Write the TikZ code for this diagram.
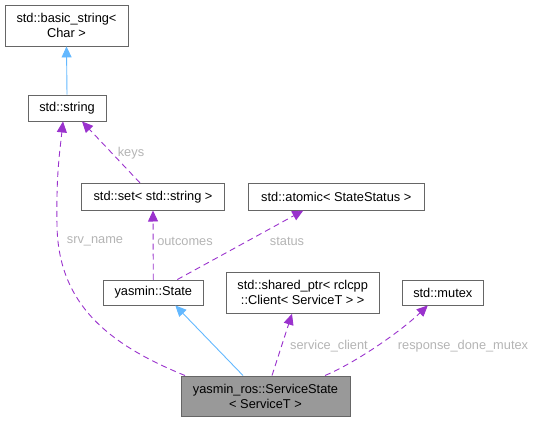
\documentclass[tikz,border=0pt]{standalone}
\usepackage{fontspec}
\setmainfont{Liberation Sans}
\usetikzlibrary{arrows.meta,calc}
\definecolor{edgepurple}{HTML}{9A32CD}
\definecolor{edgeblue}{HTML}{63B8FF}
\definecolor{boxborder}{HTML}{666666}
\definecolor{lblgray}{HTML}{B4B4B4}
\definecolor{mainfill}{HTML}{999999}
\tikzset{
  cls/.style={draw=boxborder, line width=0.9pt, fill=white, inner sep=0pt, align=center,
    font=\fontsize{12.8}{15}\selectfont},
  usage/.style={draw=edgepurple, line width=0.9pt, dash pattern=on 6pt off 4pt,
    -{Triangle[length=11pt,width=10pt]}},
  inherit/.style={draw=edgeblue, line width=0.9pt,
    -{Triangle[length=11pt,width=10pt]}},
  lbl/.style={text=lblgray, font=\fontsize{12.8}{15}\selectfont, inner sep=1pt},
}
\begin{document}
\begin{tikzpicture}[x=1pt,y=-1pt]
\useasboundingbox (0,0) rectangle (533,422);
\node[cls, minimum width=123pt, minimum height=41pt] (basic) at (66.5,25.5) {std::basic\_string<\\Char >};
\node[cls, minimum width=78pt, minimum height=26pt] (str) at (67,108) {std::string};
\node[cls, minimum width=142.6pt, minimum height=26.7pt] (set) at (153,196.7) {std::set< std::string >};
\node[cls, minimum width=176pt, minimum height=26.7pt] (atomic) at (336.3,196.7) {std::atomic< StateStatus >};
\node[cls, minimum width=100pt, minimum height=25pt] (state) at (153.3,292.5) {yasmin::State};
\node[cls, minimum width=153.3pt, minimum height=41pt] (shared) at (302.7,292.8) {std::shared\_ptr< rclcpp\\::Client< ServiceT > >};
\node[cls, minimum width=81pt, minimum height=25pt] (mutex) at (442.8,292.5) {std::mutex};
\node[cls, fill=mainfill, minimum width=169pt, minimum height=40.7pt] (ss) at (265.5,396.3) {yasmin\_ros::ServiceState\\< ServiceT >};

\draw[inherit] (str.north) -- (basic.south);
\draw[inherit] ([xshift=-22.5pt]ss.north) -- ([xshift=22pt]state.south);

\draw[usage] ([xshift=-80.5pt]ss.north) .. controls (110,345) and (58,305) .. (57,225)
   .. controls (56,175) and (60,150) .. ([xshift=-4pt]str.south);
\draw[usage] ([xshift=-13pt]set.north) -- ([xshift=15pt]str.south);
\draw[usage] (state.north) -- (set.south);
\draw[usage] ([xshift=24pt]state.north) -- ([xshift=-33pt]atomic.south);
\draw[usage] ([xshift=6.5pt]ss.north) -- ([xshift=-10.7pt]shared.south);
\draw[usage] ([xshift=59.5pt]ss.north) .. controls (355,363) and (400,332) .. ([xshift=-15pt]mutex.south);

\node[lbl] (lkeys) at (131,153) {keys};
\node[lbl] (lsrv) at (95,241.7) {srv\_name};
\node[lbl] (lout) at (185,241.7) {outcomes};
\node[lbl] (lstatus) at (287,241.7) {status};
\node[lbl] (lsc) at (329,345.7) {service\_client};
\node[lbl] (lrdm) at (463,345.7) {response\_done\_mutex};
\end{tikzpicture}
\end{document}
